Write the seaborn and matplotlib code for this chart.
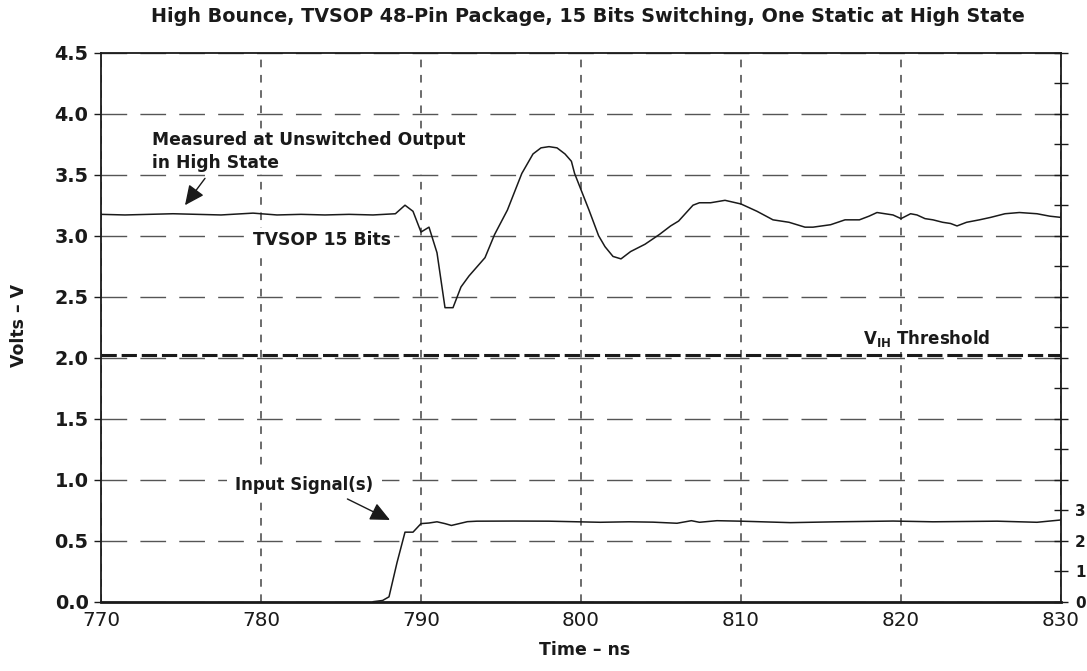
import numpy as np
import pandas as pd
import matplotlib
matplotlib.use("Agg")
import matplotlib.pyplot as plt
import seaborn as sns

# Output that stays high while 15 neighbours switch (time in ns, volts)
out_time = [770.0, 771.5, 773.0, 774.5, 776.0, 777.5, 779.5, 781.0, 782.5, 784.0,
            785.5, 787.0, 788.4, 789.0, 789.5, 790.0, 790.5, 791.0, 791.5, 792.0,
            792.5, 793.0, 794.0, 794.6, 795.4, 796.3, 797.0, 797.5, 798.0, 798.5,
            799.0, 799.4, 799.6, 800.5, 801.1, 801.5, 802.0, 802.5, 803.1, 804.0,
            804.9, 805.6, 806.1, 807.0, 807.4, 808.1, 809.0, 810.0, 811.0, 812.0,
            813.0, 814.0, 814.5, 815.6, 816.5, 817.4, 818.0, 818.5, 819.0, 819.5,
            820.0, 820.6, 821.0, 821.5, 822.0, 822.6, 823.1, 823.5, 824.1, 824.9,
            825.6, 826.5, 827.4, 828.5, 829.3, 830.0]
out_volts = [3.175, 3.17, 3.175, 3.18, 3.175, 3.17, 3.185, 3.17, 3.175, 3.17,
             3.175, 3.17, 3.18, 3.25, 3.20, 3.03, 3.07, 2.86, 2.41, 2.41,
             2.58, 2.67, 2.82, 3.01, 3.21, 3.51, 3.67, 3.72, 3.73, 3.72,
             3.67, 3.61, 3.51, 3.21, 3.00, 2.91, 2.83, 2.81, 2.87, 2.93,
             3.01, 3.08, 3.12, 3.25, 3.27, 3.27, 3.29, 3.26, 3.20, 3.13,
             3.11, 3.07, 3.07, 3.09, 3.13, 3.13, 3.16, 3.19, 3.18, 3.17,
             3.14, 3.18, 3.17, 3.14, 3.13, 3.11, 3.10, 3.08, 3.11, 3.13,
             3.15, 3.18, 3.19, 3.18, 3.16, 3.15]

# Input signal (volts, 0..3 V shown on a compressed scale)
in_time = [787.0, 787.6, 788.0, 788.5, 789.0, 789.5, 790.0, 790.5, 791.0, 791.5,
           791.9, 792.9, 793.5, 795.8, 798.0, 801.2, 803.0, 804.5, 806.0, 806.9,
           807.4, 808.5, 810.0, 813.1, 816.0, 819.5, 822.0, 826.0, 828.5, 830.0]
in_volts = [0.0, 0.01, 0.04, 0.32, 0.57, 0.57, 0.64, 0.645, 0.655, 0.64,
            0.625, 0.656, 0.66, 0.661, 0.66, 0.651, 0.655, 0.652, 0.643, 0.664,
            0.651, 0.664, 0.66, 0.648, 0.655, 0.661, 0.655, 0.66, 0.651, 0.67]

vih_level = 2.02

x_ticks = [770, 780, 790, 800, 810, 820, 830]
y_ticks = [0.0, 0.5, 1.0, 1.5, 2.0, 2.5, 3.0, 3.5, 4.0, 4.5]
right_ticks = list(np.arange(0, 4.51, 0.25))
right_labels = ["0", "1", "2", "3"]

sns.set_theme(style="white")
plt.rcParams["font.family"] = ["DejaVu Sans"]
plt.rcParams["mathtext.fontset"] = "dejavusans"
plt.rcParams["lines.scale_dashes"] = False

INK = "#1a1a1a"

fig = plt.figure(figsize=(10.87, 6.71), dpi=100)
ax = fig.add_axes([101 / 1087, 1 - 601.7 / 671, 960 / 1087, 549 / 671])

out_df = pd.DataFrame({"t": out_time, "v": out_volts})
in_df = pd.DataFrame({"t": in_time, "v": in_volts})
sns.lineplot(data=out_df, x="t", y="v", ax=ax, color=INK, lw=1.1,
             sort=False, estimator=None, zorder=4)
sns.lineplot(data=in_df, x="t", y="v", ax=ax, color=INK, lw=1.1,
             sort=False, estimator=None, zorder=4)

ax.axhline(vih_level, color=INK, lw=2.2, linestyle=(0, (11, 3.5)), zorder=3)

ax.set_xlim(770, 830)
ax.set_ylim(0, 4.5)
ax.set_xticks(x_ticks)
ax.set_xticklabels([str(t) for t in x_ticks], fontsize=14.3, color=INK)
ax.set_yticks(y_ticks)
ax.set_yticklabels([f"{v:.1f}" for v in y_ticks], fontsize=13.8, fontweight="bold",
                   color=INK)
ax.tick_params(axis="y", direction="out", length=5, width=1, colors=INK, pad=4)
ax.tick_params(axis="x", direction="inout", length=6, width=1, colors=INK, pad=4)

ax.set_axisbelow(True)
ax.yaxis.grid(True, color="#555555", lw=1.0, linestyle=(0, (18.5, 9.5)))
ax.xaxis.grid(True, color="#444444", lw=1.1, linestyle=(0, (5.5, 5.5)))

for side in ["left", "right", "top"]:
    ax.spines[side].set_color(INK)
    ax.spines[side].set_linewidth(1.3)
ax.spines["bottom"].set_color(INK)
ax.spines["bottom"].set_linewidth(2.0)

# Secondary scale for the input signal, on the right edge
ax2 = ax.twinx()
ax2.set_ylim(0, 4.5)
ax2.set_yticks(right_ticks)
ax2.set_yticklabels(right_labels + [""] * (len(right_ticks) - len(right_labels)),
                    fontsize=11, fontweight="bold", color=INK)
ax2.tick_params(axis="y", direction="inout", length=10, width=1, colors=INK, pad=5)
for s in ax2.spines.values():
    s.set_visible(False)

ax.set_xlabel("Time – ns", fontsize=12.5, fontweight="bold", color=INK)
ax.xaxis.set_label_coords(0.5 + 4 / 960, -(641 - 601.7) / 549)
ax.set_ylabel("Volts – V", fontsize=12.5, fontweight="bold", color=INK)
ax.yaxis.set_label_coords(-(101 - 28) / 960, 0.5 + (601.7 - 274 - 326) / 549)
fig.text(588 / 1087, 1 - 16 / 671,
         "High Bounce, TVSOP 48-Pin Package, 15 Bits Switching, One Static at High State",
         ha="center", va="center", fontsize=13.8, fontweight="bold", color=INK)

box = dict(facecolor="white", edgecolor="none", pad=2)
ax.text(773.2, 3.69, "Measured at Unswitched Output\nin High State", ha="left", va="center",
        fontsize=12.3, fontweight="bold", color=INK, bbox=box, zorder=5,
        linespacing=1.3)
ax.text(779.5, 2.965, "TVSOP 15 Bits", ha="left", va="center", fontsize=12.3,
        fontweight="bold", color=INK, bbox=box, zorder=5)
ax.text(778.4, 0.957, "Input Signal(s)", ha="left", va="center", fontsize=12.0,
        fontweight="bold", color=INK, bbox=dict(facecolor="white", edgecolor="none", pad=6),
        zorder=5)
ax.text(817.6, 2.16, r"V$_{\mathbf{IH}}$ Threshold", ha="left", va="center", fontsize=12.0,
        fontweight="bold", color=INK, bbox=box, zorder=5)

arrow = dict(arrowstyle="-|>,head_length=0.6,head_width=0.28", color=INK, lw=1.0,
             mutation_scale=20, shrinkA=0, shrinkB=0)
ax.annotate("", xy=(775.25, 3.25), xytext=(776.5, 3.47), arrowprops=arrow, zorder=6)
ax.annotate("", xy=(788.06, 0.67), xytext=(785.4, 0.842), arrowprops=arrow, zorder=6)

fig.savefig("out.png", dpi=100)
